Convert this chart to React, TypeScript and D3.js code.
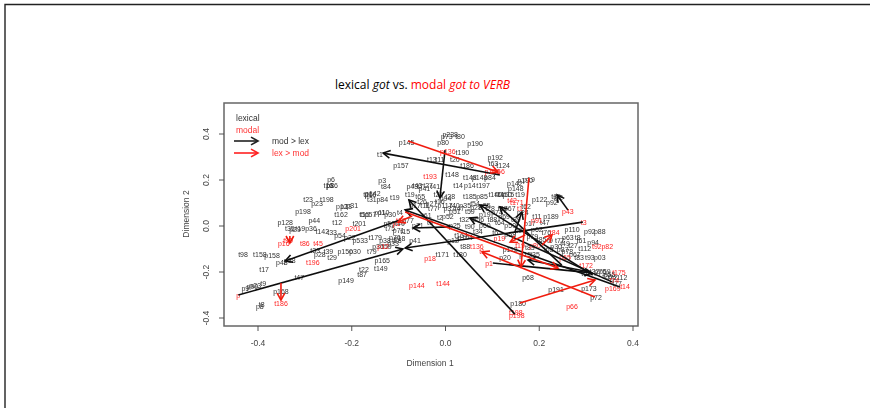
import React from "react";
import * as d3 from "d3";

type L = [string, number, number];
type A = [number, number, number, number];

const xTicks = [-0.4, -0.2, 0, 0.2, 0.4];
const yTicks = [-0.4, -0.2, 0, 0.2, 0.4];

const blackLeft: L[] = [
  ["p128",-.342,.017],["p44",-.280,.022],["t12",-.231,.017],["t201",-.184,.013],["t23",-.293,.117],["t198",-.253,.117],
  ["p23",-.274,.100],["p198",-.304,.065],["t162",-.223,.048],["p31",-.199,.087],["p12",-.221,.083],["p13",-.212,.085],
  ["t5",-.178,.052],["t15",-.172,.052],["p57",-.160,.052],["p6",-.244,.204],["p8",-.246,.174],["p16",-.242,.174],["t16",-.250,.174],
  ["p3",-.135,.196],["t84",-.127,.170],["p142",-.155,.143],["t16",-.165,.139],["p16",-.160,.139],["t31",-.157,.117],["p84",-.135,.117],["t19",-.108,.126],
  ["p36",-.287,-.013],["t19",-.310,-.009],["t142",-.263,-.022],["t35",-.332,-.009],["p29",-.321,-.017],["t33",-.242,-.030],["p54",-.225,-.043],["p22",-.204,-.052],
  ["t98",-.432,-.122],["t158",-.396,-.122],["p158",-.370,-.130],["p48",-.349,-.157],["p38",-.332,-.148],["t17",-.387,-.187],
  ["p9",-.427,-.270],["p99",-.412,-.265],["p23",-.406,-.257],["t9",-.389,-.248],["p168",-.351,-.283],["t47",-.312,-.222],
  ["p149",-.212,-.235],["t87",-.178,-.209],["t22",-.174,-.191],["t149",-.138,-.183],["p165",-.135,-.152],
  ["p8",-.396,-.348],["t8",-.392,-.342],["p150",-.214,-.113],["p30",-.193,-.113],["t79",-.157,-.113],["p28",-.268,-.122],["t33",-.278,-.105],["t39",-.250,-.110],["t29",-.242,-.135],
  ["t4",-.097,.057],["p30",-.118,.052],["p11",-.140,.057],["p10",-.132,.057],["p77",-.080,.026],["p21",-.059,.004],["t15",-.086,-.026],["p70",-.108,-.048],
  ["p38",-.129,-.061],["t179",-.150,-.052],["p533",-.182,-.061],["p36",-.144,-.087],["t18",-.104,-.061],["p18",-.098,-.055],["t40",-.097,.009],["p41",-.065,-.061],
  ["p50",-.120,.009],["t75",-.118,-.013],["p71",-.100,-.020],["p33",-.112,-.078],["t59",-.125,-.091],
];
const blackTop: L[] = [
  ["p238",.010,.400],["p73",.003,.390],["t80",.031,.387],["p80",-.005,.365],["p190",.063,.357],["t190",.036,.318],["t20",.020,.287],["t13",-.029,.287],["t11",-.012,.287],
  ["p192",.106,.296],["t63",.102,.270],["t124",.123,.261],["t186",.046,.265],["p145",-.083,.365],["t1",-.140,.313],["p157",-.095,.265],
  ["p43",-.071,.170],["t7",-.054,.170],["t27",-.037,.174],["t41",-.022,.170],["t65",-.054,.130],["t19",-.076,.135],["t14",.027,.174],["p14",.052,.178],["t197",.080,.174],
  ["t148",.052,.213],["p148",.073,.213],["p84",.095,.209],["t148",.014,.222],["p142",.148,.183],["t140",.106,.135],["t14",.115,.135],["t150",.127,.135],["p15",.134,.135],["t19",.159,.135],["t185",.052,.130],["p85",.078,.130],
  ["t43",-.060,.178],["p41",-.045,.165],["t26",-.015,.135],["p94",.000,.120],["t28",.010,.130],
];
const blackMid: L[] = [
  ["p17",-.065,.091],["t11",-.044,.091],["t77",-.027,.078],["p117",-.001,.091],["t40",.020,.091],["p35",.042,.091],["t54",.063,.100],["p55",.084,.091],
  ["p51",.020,.061],["t59",.052,.061],["p19",.084,.048],["t64",.116,.017],["p50",.138,.004],["t9",-.033,.017],["t2",-.012,.035],["p25",.020,.004],["t90",.052,.000],["p60",.084,.004],
  ["t6",.106,-.030],["p58",.138,-.039],["t34",.069,-.026],["p104",.042,-.048],["t37",.122,.078],["p67",.137,.078],["t62",.172,.083],["p17",.180,.009],["t47",.212,.017],
  ["p30",.236,-.087],["p112",.138,-.104],["p20",.127,-.139],["p15",.170,-.126],["t35",.191,-.126],["t171",-.007,-.126],["t180",.031,-.126],["t88",.042,-.091],["t164",.033,-.043],["p12",.016,-.061],
  ["t26",-.050,.105],["p27",-.030,.100],["t16",-.012,.105],["p37",.008,.075],["t47",.030,.075],["p28",.065,.080],["t28",.095,.075],["p74",.110,.060],["t88",.100,.030],
  ["p56",.070,.030],["t32",.040,.030],["p52",.005,.040],["t61",-.040,.045],["p69",.125,.040],["t89",.150,.030],["p24",.165,.060],["t11",.195,.040],
  ["p62",.195,-.015],["t76",.215,-.030],["p79",.185,-.045],["t85",.205,-.060],["p93",.160,-.020],["t63",.220,-.100],["p87",.250,-.100],["t83",.180,-.095],
];
const blackRight: L[] = [
  ["p122",.201,.117],["p92",.227,.104],["p189",.225,.043],["p110",.270,-.017],["p148",.150,.165],["p190",.170,.200],["p19",.178,.204],["t92",.240,.126],["t19",.236,.130],
  ["p173",.306,-.270],["p191",.236,-.274],["p72",.321,-.309],["p68",.176,-.222],["p180",.155,-.335],
  ["p75",.330,-.196],["t72",.356,-.222],["t77",.366,-.248],["p112",.372,-.222],["t32",.318,-.196],["p69",.340,-.196],["t51",.300,-.205],
  ["t9",.223,-.061],["t77",.244,-.061],["p63",.261,-.048],["t8",.282,-.048],["p92",.308,-.026],["p88",.329,-.026],["t27",.272,-.083],["t112",.297,-.096],["p67",.276,-.122],["t93",.308,-.135],["p03",.329,-.139],["t83",.285,-.135],
  ["t61",.290,-.065],["p94",.315,-.070],["t49",.255,-.075],["p78",.260,-.110],["t26",.345,-.220],["p55",.350,-.210],
];
const redLabels: L[] = [
  ["t196",-.283,-.157],["p16",-.345,-.074],["t90",-.336,-.065],["t86",-.300,-.074],["t45",-.272,-.074],["p144",-.061,-.257],["t144",-.005,-.248],["p18",-.033,-.143],["t186",-.351,-.335],["p",-.442,-.300],
  ["p201",-.197,-.013],["p12",-.133,-.091],["t193",-.033,.217],["p136",.005,.326],["t166",.112,.235],["p166",.100,.235],["p43",.261,.065],["p91",.195,.022],["t3",.295,.017],["p66",.270,-.352],
  ["t175",.370,-.200],["t172",.300,-.170],["t14",.383,-.265],["p169",.357,-.270],["p198",.152,-.387],["t198",.150,-.377],["t1",.236,-.178],["p1",.093,-.165],["t92",.323,-.087],["p82",.345,-.087],["t136",.067,-.087],
  ["t1",.078,-.113],["p65",.255,-.135],["t84",.233,-.030],["p80",.191,-.083],["t42",.142,.113],["t171",.152,.104],["t1",.159,.078],["t19",.159,-.083],["p19",.115,-.055],["t17",-.095,.026],["p1",-.105,.013],["t74",.360,-.235],
];

const blackArrows: A[] = [
  [.293,.017,-.086,-.096],[.116,.222,-.133,.317],[-.001,.330,-.012,.122],[-.097,.026,-.342,-.152],[-.442,-.300,-.091,-.100],
  [.148,-.383,-.078,.113],[.248,-.170,.116,.083],[.314,-.213,.074,.091],[.148,-.026,.163,.061],[.261,.070,.238,.135],
  [.372,-.265,-.086,.070],[.308,-.200,.176,-.148],[.101,-.161,.312,-.204],[.010,-.004,-.069,-.009],[.355,-.243,.052,.035],
];
const redArrows: A[] = [
  [-.080,.370,.112,.235],[-.086,.061,.240,-.183],[.319,-.309,.078,-.113],[.159,-.335,.319,-.235],[.178,.209,.161,-.178],
  [.170,-.039,.138,-.070],[.206,-.083,.227,-.039],[-.351,-.248,-.351,-.322],[-.071,.043,-.101,.017],[-.332,-.043,-.332,-.074],
];

const x = d3.scaleLinear().domain([-0.4, 0.4]).range([258, 633]);
const y = d3.scaleLinear().domain([-0.4, 0.4]).range([318, 134]);

const FONT = "'Liberation Sans', Arial, sans-serif";
const AX = "#444";

function Arrow({ a, color, sw = 1.6, hl = 8 }: { a: [number, number, number, number]; color: string; sw?: number; hl?: number }) {
  const [x0, y0, x1, y1] = a;
  const ang = Math.atan2(y1 - y0, x1 - x0);
  const p = (d: number) => [x1 - hl * Math.cos(ang + d), y1 - hl * Math.sin(ang + d)];
  const l = d3.line();
  return (
    <g stroke={color} strokeWidth={sw} fill="none">
      <line x1={x0} y1={y0} x2={x1} y2={y1} />
      <path d={l([p(0.5) as [number, number], [x1, y1], p(-0.5) as [number, number]]) || ""} />
    </g>
  );
}

const Labels = ({ data, fill }: { data: L[]; fill: string }) => (
  <g fill={fill} fontSize={7} fontFamily={FONT} textAnchor="middle">
    {data.map((d, i) => (
      <text key={i} x={x(d[1])} y={y(d[2]) + 2.5}>{d[0]}</text>
    ))}
  </g>
);

export default function App() {
  const blacks = [...blackLeft, ...blackTop, ...blackMid, ...blackRight];
  return (
    <svg width={870} height={408} style={{ position: "absolute", left: 0, top: 0, background: "#fff" }}>
      <defs>
        <filter id="soft" filterUnits="userSpaceOnUse" x={170} y={95} width={490} height={285}>
          <feGaussianBlur stdDeviation="0.65" />
        </filter>
      </defs>
      <path d="M5,408 V4.5 H870" fill="none" stroke="#222" strokeWidth={1.4} />
      <text x={422.5} y={89} textAnchor="middle" fontSize={12} fontFamily="'Open Sans', sans-serif">
        <tspan>lexical </tspan><tspan fontStyle="italic">got</tspan><tspan> vs. </tspan>
        <tspan fill="#f00">modal </tspan><tspan fill="#f00" fontStyle="italic">got to VERB</tspan>
      </text>
      <g filter="url(#soft)">
        <rect x={224} y={103} width={414} height={223} fill="none" stroke="#666" strokeWidth={1.5} />
        {xTicks.map((t) => (
          <g key={t}>
            <line x1={x(t)} x2={x(t)} y1={326} y2={331} stroke={AX} strokeWidth={0.9} />
            <text x={x(t)} y={346} textAnchor="middle" fontSize={8.5} fontFamily={FONT} fill={AX}>{t === 0 ? "0.0" : t.toFixed(1)}</text>
          </g>
        ))}
        {yTicks.map((t) => (
          <g key={t}>
            <line x1={219} x2={224} y1={y(t)} y2={y(t)} stroke={AX} strokeWidth={0.9} />
            <text transform={`translate(209,${y(t)}) rotate(-90)`} textAnchor="middle" fontSize={8.5} fontFamily={FONT} fill={AX}>{t === 0 ? "0.0" : t.toFixed(1)}</text>
          </g>
        ))}
        <text x={430} y={366} textAnchor="middle" fontSize={8.5} fontFamily={FONT} fill={AX}>Dimension 1</text>
        <text transform="translate(189,214) rotate(-90)" textAnchor="middle" fontSize={8.5} fontFamily={FONT} fill={AX}>Dimension 2</text>

        <text x={236} y={121} fontSize={8.5} fontFamily={FONT} fill="#333">lexical</text>
        <text x={236} y={133} fontSize={8.5} fontFamily={FONT} fill="#f33">modal</text>
        <Arrow a={[234, 141, 258, 141]} color="#222" />
        <Arrow a={[234, 153, 258, 153]} color="#f22" />
        <text x={272} y={144} fontSize={8.5} fontFamily={FONT} fill="#333">mod &gt; lex</text>
        <text x={272} y={156} fontSize={8.5} fontFamily={FONT} fill="#f33">lex &gt; mod</text>

        <Labels data={blacks} fill="#333" />
        <Labels data={redLabels} fill="#f22" />
        {blackArrows.map((a, i) => (
          <Arrow key={i} a={[x(a[0]), y(a[1]), x(a[2]), y(a[3])]} color="#111" />
        ))}
        {redArrows.map((a, i) => (
          <Arrow key={i} a={[x(a[0]), y(a[1]), x(a[2]), y(a[3])]} color="#f01c10" />
        ))}
      </g>
    </svg>
  );
}
